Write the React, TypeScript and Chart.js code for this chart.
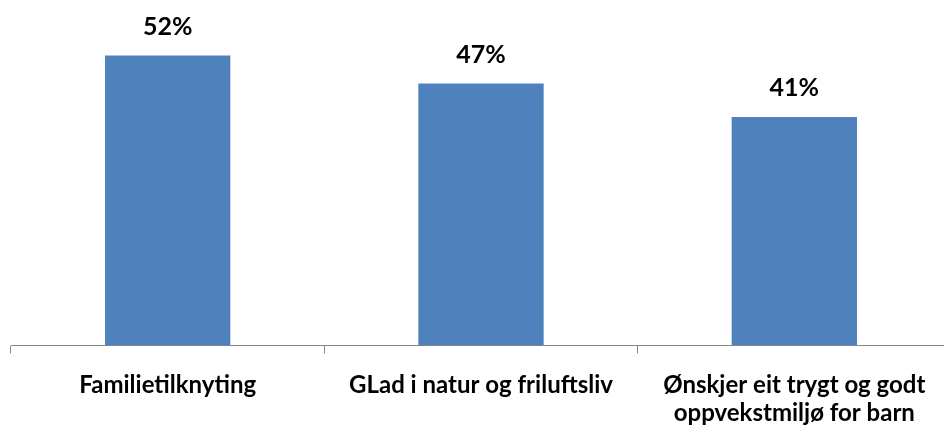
import React, { useEffect, useRef } from "react";
import { Chart, registerables } from "chart.js";

Chart.register(...registerables);

const categories: (string | string[])[] = [
  "Familietilknyting",
  "GLad i natur og friluftsliv",
  ["Ønskjer eit trygt og godt", "oppvekstmiljø for barn"],
];
const values: number[] = [52, 47, 41];
const valueLabels: string[] = ["52%", "47%", "41%"];

const FONT = "Lato, 'Open Sans', sans-serif";

const dataLabelPlugin = {
  id: "dataLabels",
  afterDatasetsDraw(chart: any) {
    const ctx = chart.ctx;
    const meta = chart.getDatasetMeta(0);
    ctx.save();
    ctx.font = `700 25px ${FONT}`;
    ctx.fillStyle = "#000000";
    ctx.textAlign = "center";
    ctx.textBaseline = "middle";
    meta.data.forEach((bar: any, i: number) => {
      ctx.fillText(valueLabels[i], bar.x, bar.y - 28.5);
    });
    ctx.restore();
  },
};

export default function App() {
  const ref = useRef<HTMLCanvasElement | null>(null);
  useEffect(() => {
    if (!ref.current) return;
    const chart = new Chart(ref.current, {
      type: "bar",
      data: {
        labels: categories,
        datasets: [
          {
            data: values,
            backgroundColor: "#4F81BD",
            borderWidth: 0,
            barPercentage: 0.8,
            categoryPercentage: 0.5,
          },
        ],
      },
      options: {
        animation: false,
        responsive: false,
        maintainAspectRatio: false,
        layout: { padding: { top: 11, left: 11, right: 9, bottom: 0 } },
        plugins: { legend: { display: false }, tooltip: { enabled: false } },
        scales: {
          y: { display: false, min: 0, max: 60 },
          x: {
            offset: true,
            grid: {
              display: true,
              drawOnChartArea: false,
              drawTicks: true,
              tickLength: 8,
              color: "#868686",
              offset: true,
            },
            border: { display: true, color: "#868686", width: 1 },
            ticks: {
              color: "#000000",
              font: { family: FONT, size: 24, weight: "700", lineHeight: 1.2 },
              padding: 17,
              maxRotation: 0,
              autoSkip: false,
            },
          },
        },
      },
      plugins: [dataLabelPlugin],
    });
    return () => chart.destroy();
  }, []);
  return (
    <div
      style={{
        position: "fixed",
        left: 0,
        top: 0,
        width: 944,
        height: 426,
        overflow: "hidden",
        background: "#ffffff",
      }}
    >
      <canvas ref={ref} width={960} height={445} style={{ display: "block" }} />
    </div>
  );
}
